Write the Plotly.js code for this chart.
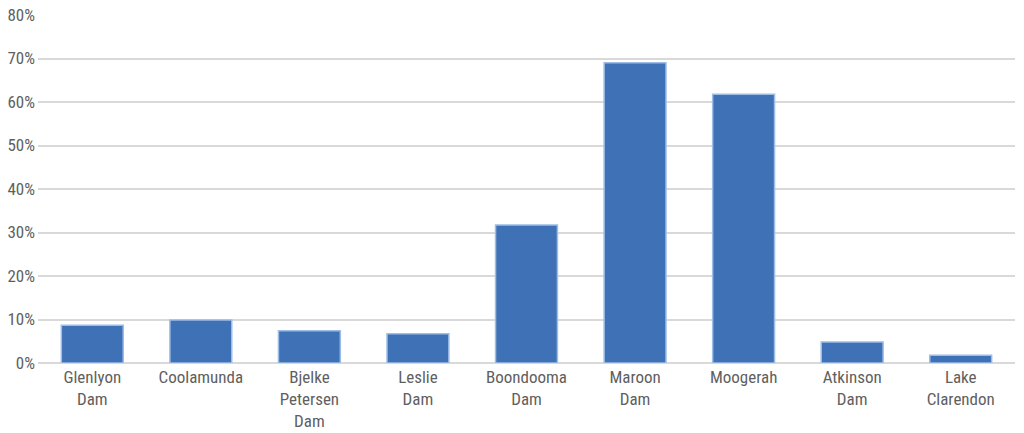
<!DOCTYPE html>
<html>
<head>
<meta charset="utf-8">
<script src="https://cdn.plot.ly/plotly-3.0.1.min.js"></script>
<style>html,body{margin:0;padding:0;background:#fff;}#chart{width:1024px;height:433px;}</style>
</head>
<body>
<div id="chart"></div>
<script>
const categories = ["Glenlyon<br>Dam", "Coolamunda", "Bjelke<br>Petersen<br>Dam", "Leslie<br>Dam", "Boondooma<br>Dam", "Maroon<br>Dam", "Moogerah", "Atkinson<br>Dam", "Lake<br>Clarendon"];
const values = [8.7, 9.9, 7.4, 6.7, 31.7, 69.0, 61.8, 4.8, 1.8];
const tickVals = [0, 10, 20, 30, 40, 50, 60, 70, 80];
const tickText = ["0%", "10%", "20%", "30%", "40%", "50%", "60%", "70%", "80%"];

const fontFam = "'Liberation Sans Narrow', 'Arial Narrow', 'Roboto Condensed', Roboto, sans-serif";
const trace = {
  type: 'bar',
  x: categories,
  y: values,
  width: 0.57,
  marker: {color: '#3f71b6', line: {color: '#9dbde6', width: 1.5}},
  hoverinfo: 'skip'
};
const layout = {
  width: 1024, height: 433,
  margin: {l: 38, r: 9, t: 15, b: 70},
  paper_bgcolor: '#ffffff', plot_bgcolor: '#ffffff',
  showlegend: false,
  xaxis: {
    type: 'category',
    showgrid: false, zeroline: false, showline: false,
    ticks: '', ticklabelstandoff: 2,
    tickfont: {family: fontFam, size: 17, color: '#5f5f5f'},
    automargin: false
  },
  yaxis: {
    range: [0, 80],
    tickvals: tickVals, ticktext: tickText,
    showgrid: true, gridcolor: '#d9d9d9', gridwidth: 2,
    zeroline: true, zerolinecolor: '#d9d9d9', zerolinewidth: 2,
    showline: false, ticks: '',
    ticklabelstandoff: 2,
    tickfont: {family: fontFam, size: 17, color: '#5f5f5f'},
    automargin: false
  }
};
Plotly.newPlot('chart', [trace], layout, {displayModeBar: false, staticPlot: true});
</script>
</body>
</html>
